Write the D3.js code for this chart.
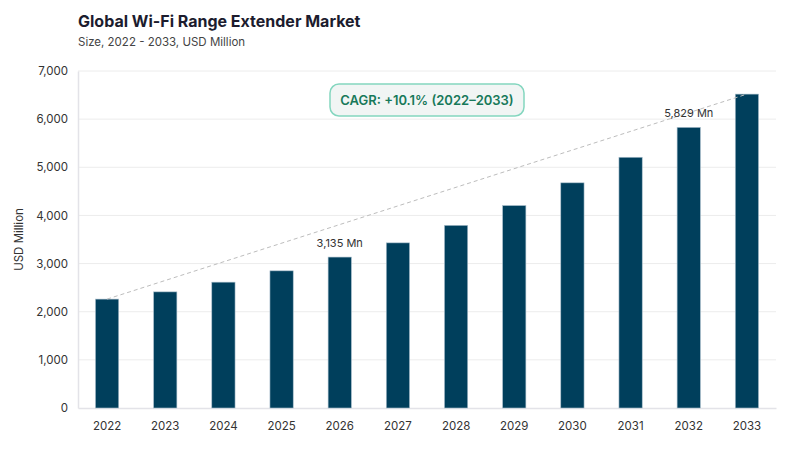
<!DOCTYPE html>
<html>
<head>
<meta charset="utf-8">
<script src="https://cdn.jsdelivr.net/npm/d3@7"></script>
<style>
  body { margin: 0; background: #fff; }
  svg { font-family: Inter, "Noto Sans", sans-serif; }
</style>
</head>
<body>
<svg width="800" height="450"></svg>
<script>
// Data
const years = ["2022", "2023", "2024", "2025", "2026", "2027", "2028", "2029", "2030", "2031", "2032", "2033"];
const marketSize = [2262, 2412, 2614, 2849, 3135, 3430, 3794, 4205, 4677, 5208, 5829, 6520];
const yTicks = [0, 1000, 2000, 3000, 4000, 5000, 6000, 7000];
const labelled = ["2026", "2032"];
const cagrText = "CAGR: +10.1% (2022–2033)";

const svg = d3.select("svg");
const margin = { top: 71, right: 24, bottom: 42, left: 78 };
const width = 800, height = 450;

const x = d3.scaleBand()
    .domain(years)
    .range([margin.left, width - margin.right])
    .paddingInner(0.6)
    .paddingOuter(0.3);

const y = d3.scaleLinear()
    .domain([0, 7000])
    .range([height - margin.bottom, margin.top]);

// Title
svg.append("text")
    .attr("x", 78).attr("y", 27)
    .style("font-size", "16px")
    .style("font-weight", "700")
    .style("fill", "#1c1c2e")
    .text("Global Wi-Fi Range Extender Market");

svg.append("text")
    .attr("x", 78).attr("y", 46)
    .style("font-size", "11.5px")
    .style("fill", "#444")
    .text("Size, 2022 - 2033, USD Million");

// Grid lines
svg.append("g")
  .selectAll("line")
  .data(yTicks.slice(1))
  .enter().append("line")
    .attr("x1", margin.left)
    .attr("x2", width - margin.right)
    .attr("y1", d => y(d))
    .attr("y2", d => y(d))
    .attr("stroke", "#ececec")
    .attr("stroke-width", 1);

// Y axis
const yAxis = svg.append("g")
    .attr("transform", "translate(" + margin.left + ",0)")
    .call(d3.axisLeft(y).tickValues(yTicks).tickFormat(d3.format(",")).tickSize(0).tickPadding(10));
yAxis.select(".domain").attr("stroke", "#e3e3e8").attr("stroke-width", 1.5);
yAxis.selectAll("text")
    .style("font-size", "11.5px")
    .style("fill", "#333")
    .style("font-family", "Inter, 'Noto Sans', sans-serif");

// X axis
const xAxis = svg.append("g")
    .attr("transform", "translate(0," + y(0) + ")")
    .call(d3.axisBottom(x).tickSize(0).tickPadding(14));
xAxis.select(".domain").attr("stroke", "#e3e3e8").attr("stroke-width", 1.5);
xAxis.selectAll("text")
    .style("font-size", "11.5px")
    .style("fill", "#333")
    .style("font-family", "Inter, 'Noto Sans', sans-serif");

// Y label
svg.append("text")
    .attr("transform", "translate(23," + ((margin.top + y(0)) / 2) + ")rotate(-90)")
    .attr("text-anchor", "middle")
    .style("font-size", "11.5px")
    .style("fill", "#333")
    .text("USD Million");

// Bars
svg.append("g")
  .selectAll("rect")
  .data(years)
  .enter().append("rect")
    .attr("x", d => x(d))
    .attr("y", (d, i) => y(marketSize[i]))
    .attr("width", x.bandwidth())
    .attr("height", (d, i) => y(0) - y(marketSize[i]))
    .attr("fill", "#003f5c")
    .attr("stroke", "#a9bfcc")
    .attr("stroke-width", 0.6);

// Trend line between first and last bar
const first = 0, last = years.length - 1;
svg.append("line")
    .attr("x1", x(years[first]) + x.bandwidth() / 2)
    .attr("y1", y(marketSize[first]))
    .attr("x2", x(years[last]) + x.bandwidth() / 2)
    .attr("y2", y(marketSize[last]))
    .attr("stroke", "#bdbdbd")
    .attr("stroke-width", 1)
    .attr("stroke-dasharray", "4,3");

// Value labels
svg.append("g")
  .selectAll("text")
  .data(labelled)
  .enter().append("text")
    .attr("x", d => x(d) + x.bandwidth() / 2)
    .attr("y", d => y(marketSize[years.indexOf(d)]) - 10)
    .attr("text-anchor", "middle")
    .style("font-size", "11px")
    .style("fill", "#333")
    .text(d => d3.format(",")(marketSize[years.indexOf(d)]) + " Mn");

// CAGR badge
const badge = svg.append("g").attr("transform", "translate(427,100)");
badge.append("rect")
    .attr("x", -97).attr("y", -16)
    .attr("width", 194).attr("height", 32)
    .attr("rx", 9)
    .attr("fill", "#f1f5f4")
    .attr("stroke", "#84d6bf")
    .attr("stroke-width", 1.5);
badge.append("text")
    .attr("text-anchor", "middle")
    .attr("dy", "0.35em")
    .style("font-size", "13px")
    .style("font-weight", "600")
    .style("fill", "#17795a")
    .text(cagrText);
</script>
</body>
</html>
